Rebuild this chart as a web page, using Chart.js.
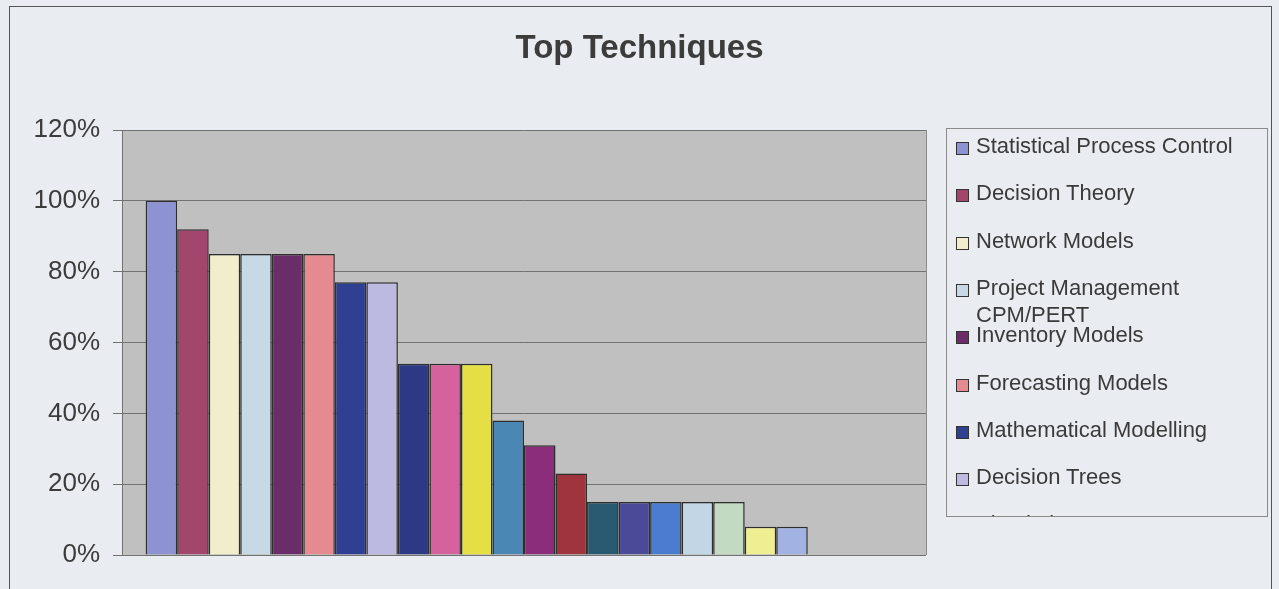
<!DOCTYPE html>
<html lang="en">
<head>
    <meta charset="UTF-8">
    <title>Top Techniques</title>
    <script src="https://cdn.jsdelivr.net/npm/chart.js@4.4.1/dist/chart.umd.min.js"></script>
    <style>
        body {
            margin: 0;
            background-color: #e9ecf1;
            font-family: "Liberation Sans", Arial, sans-serif;
            overflow: hidden;
        }
        #frame {
            position: absolute;
            left: 9px;
            top: 6px;
            width: 1261px;
            height: 700px;
            border: 1.5px solid #555;
        }
        #chart {
            position: absolute;
            left: 0;
            top: 0;
        }
        #title {
            position: absolute;
            left: 0;
            top: 28px;
            width: 1279px;
            text-align: center;
            font-weight: bold;
            font-size: 33px;
            line-height: 38px;
            color: #3c3c3c;
        }
        #legend {
            position: absolute;
            left: 946px;
            top: 128px;
            width: 320px;
            height: 387px;
            border: 1px solid #8a8a8a;
            overflow: hidden;
        }
        .item {
            position: absolute;
            left: 29px;
            width: 280px;
            font-size: 22px;
            line-height: 27px;
            color: #3a3a3a;
        }
        .box {
            position: absolute;
            left: -20px;
            top: 10px;
            width: 11px;
            height: 11px;
            border: 1px solid #333;
        }
    </style>
</head>
<body>
    <div id="frame"></div>
    <canvas id="chart" width="1279" height="589"></canvas>
    <div id="title">Top Techniques</div>
    <div id="legend"></div>

    <script>
        // share of respondents using each technique (24 series, one bar each)
        const techniques = ['Statistical Process Control', 'Decision Theory', 'Network Models',
            'Project Management CPM/PERT', 'Inventory Models', 'Forecasting Models',
            'Mathematical Modelling', 'Decision Trees', 'Simulation'];
        const values = [100, 92, 85, 85, 85, 85, 77, 77, 54, 54, 54, 38,
            31, 23, 15, 15, 15, 15, 15, 8, 8, 0, 0, 0];
        const colors = ['#8c92d2', '#a3466e', '#f0eecb', '#c6d9e4', '#6b2c6a', '#e68a91',
            '#2f3f91', '#bcbae0', '#2c3a85', '#d5629c', '#e6de45', '#4b87b5',
            '#8b2d7a', '#a0343c', '#2a5a72', '#4b4a99', '#4a7ccf', '#c2d6e6',
            '#c2d9c2', '#f0ee92', '#a2b2e2', '#f0a0c0', '#c8a8f0', '#f5cfa8'];
        const yTicks = [0, 20, 40, 60, 80, 100, 120];

        // grey plot background with a thin frame, like the Excel plot area
        const plotArea = {
            id: 'plotArea',
            beforeDraw(chart) {
                const a = chart.chartArea, c = chart.ctx;
                c.save();
                c.fillStyle = '#c0c0c1';
                c.fillRect(a.left, a.top, a.right - a.left, a.bottom - a.top);
                c.restore();
            },
            afterDraw(chart) {
                const a = chart.chartArea, c = chart.ctx;
                c.save();
                c.strokeStyle = '#8a8a8a';
                c.lineWidth = 1;
                c.beginPath();
                c.moveTo(a.right + 0.5, a.top);
                c.lineTo(a.right + 0.5, a.bottom);
                c.stroke();
                c.restore();
            }
        };

        const ctx = document.getElementById('chart').getContext('2d');
        new Chart(ctx, {
            type: 'bar',
            data: {
                labels: [''],
                datasets: values.map((v, i) => ({
                    label: techniques[i] || '',
                    data: [v],
                    backgroundColor: colors[i],
                    borderColor: '#2e2e2e',
                    borderWidth: 1.5,
                    barPercentage: 1,
                    categoryPercentage: 24 / 25.5
                }))
            },
            options: {
                responsive: false,
                animation: false,
                layout: { padding: { left: 20, top: 130, right: 353, bottom: 34 } },
                scales: {
                    x: { display: false },
                    y: {
                        min: 0,
                        max: 120,
                        afterFit(scale) { scale.width = 102; },
                        afterBuildTicks(scale) { scale.ticks = yTicks.map(v => ({ value: v })); },
                        ticks: {
                            padding: 13,
                            color: '#3c3c3c',
                            font: { family: '"Liberation Sans", Arial, sans-serif', size: 26 },
                            callback: v => v + '%'
                        },
                        grid: { color: '#727272', tickColor: '#727272', tickLength: 9 },
                        border: { color: '#727272' }
                    }
                },
                plugins: {
                    legend: { display: false },
                    title: { display: false },
                    tooltip: { enabled: false }
                }
            },
            plugins: [plotArea]
        });

        // legend drawn as html so it clips like the original box
        const legend = document.getElementById('legend');
        techniques.forEach((name, i) => {
            const item = document.createElement('div');
            item.className = 'item';
            item.style.top = (3 + 47.3 * i) + 'px';
            item.innerHTML = '<span class="box" style="background:' + colors[i] + '"></span>' + name;
            legend.appendChild(item);
        });
    </script>
</body>
</html>
